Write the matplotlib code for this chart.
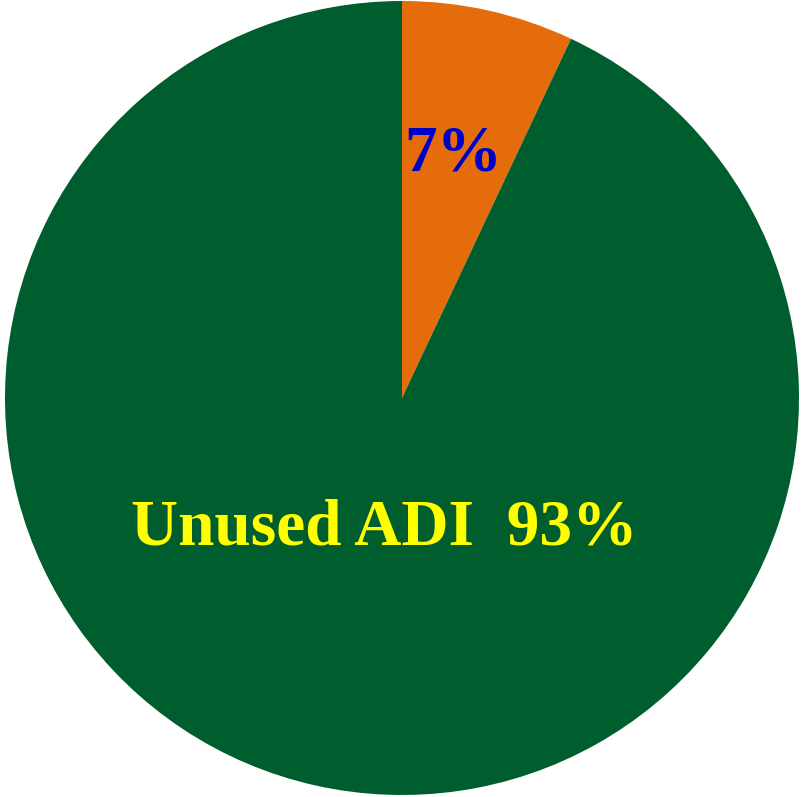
import matplotlib
matplotlib.use("Agg")
import matplotlib.pyplot as plt

labels = ["Used ADI", "Unused ADI"]
values = [7, 93]
label_texts = ["7%", "Unused ADI  93%"]
colors = ["#E46C0A", "#005E2E"]
text_colors = ["#0000CC", "#FFFF00"]

fig = plt.figure(figsize=(8.01, 7.97), dpi=100)
ax = fig.add_axes([0, 0, 1, 1])
ax.pie(values, colors=colors, startangle=90, counterclock=False,
       radius=1.0, center=(0, 0), wedgeprops=dict(linewidth=0))
ax.set_aspect("auto")
ax.set_xlim(-402 / 397, (801 - 402) / 397)
ax.set_ylim(-399 / 397, 398 / 397)
ax.axis("off")

positions = [(0.128, 0.572), (-0.045, -0.370)]
for txt, col, (x, y) in zip(label_texts, text_colors, positions):
    ax.text(x, y, txt, color=col, ha="center", va="baseline",
            fontsize=47, fontweight="bold", family="Liberation Serif")

fig.savefig("out.png", dpi=100)
